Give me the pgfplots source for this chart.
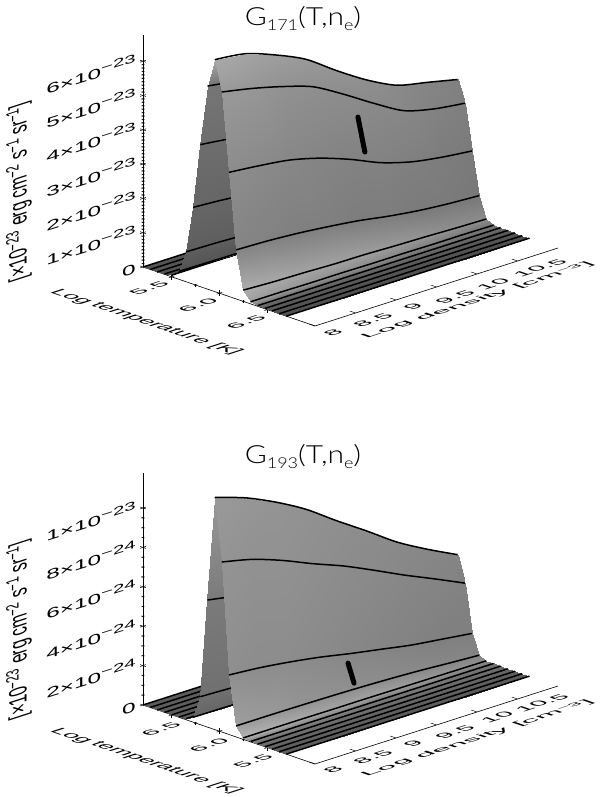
\documentclass[border=0pt]{standalone}
\usepackage{pgfplots}
\pgfplotsset{compat=1.18}
\usepackage{pgfplotstable}
\usepackage{fontspec}
\setmainfont{Liberation Sans}
\newfontfamily\thin{Lato Light}

% G171: T d z(1e-23) shade, one source line per temperature
\pgfplotstableread[row sep=\\]{
T d z s\\
5.2 8 0 0.33\\5.2 8.375 0 0.33\\5.2 8.75 0 0.33\\5.2 9.125 0 0.33\\5.2 9.5 0 0.33\\5.2 9.875 0 0.33\\5.2 10.25 0 0.33\\5.2 10.625 0 0.33\\5.2 11 0 0.33\\
5.275 8 0 0.33\\5.275 8.375 0 0.33\\5.275 8.75 0 0.33\\5.275 9.125 0 0.33\\5.275 9.5 0 0.33\\5.275 9.875 0 0.33\\5.275 10.25 0 0.33\\5.275 10.625 0 0.33\\5.275 11 0 0.33\\
5.35 8 0 0.33\\5.35 8.375 0 0.33\\5.35 8.75 0 0.33\\5.35 9.125 0 0.33\\5.35 9.5 0 0.33\\5.35 9.875 0 0.33\\5.35 10.25 0 0.33\\5.35 10.625 0 0.33\\5.35 11 0 0.33\\
5.425 8 0.01 0.32\\5.425 8.375 0.01 0.32\\5.425 8.75 0.01 0.32\\5.425 9.125 0.01 0.32\\5.425 9.5 0.01 0.32\\5.425 9.875 0.01 0.32\\5.425 10.25 0.01 0.32\\5.425 10.625 0.01 0.32\\5.425 11 0.01 0.32\\
5.5 8 0.05 0.30\\5.5 8.375 0.05 0.30\\5.5 8.75 0.05 0.30\\5.5 9.125 0.05 0.30\\5.5 9.5 0.04 0.30\\5.5 9.875 0.04 0.30\\5.5 10.25 0.03 0.30\\5.5 10.625 0.03 0.30\\5.5 11 0.03 0.30\\
5.575 8 0.23 0.33\\5.575 8.375 0.22 0.33\\5.575 8.75 0.21 0.33\\5.575 9.125 0.20 0.33\\5.575 9.5 0.18 0.33\\5.575 9.875 0.16 0.33\\5.575 10.25 0.15 0.33\\5.575 10.625 0.14 0.33\\5.575 11 0.13 0.33\\
5.65 8 0.87 0.37\\5.65 8.375 0.85 0.37\\5.65 8.75 0.81 0.37\\5.65 9.125 0.76 0.37\\5.65 9.5 0.68 0.37\\5.65 9.875 0.61 0.37\\5.65 10.25 0.55 0.37\\5.65 10.625 0.52 0.37\\5.65 11 0.50 0.37\\
5.725 8 2.24 0.40\\5.725 8.375 2.18 0.40\\5.725 8.75 2.08 0.40\\5.725 9.125 1.94 0.40\\5.725 9.5 1.74 0.40\\5.725 9.875 1.56 0.40\\5.725 10.25 1.42 0.40\\5.725 10.625 1.35 0.40\\5.725 11 1.28 0.40\\
5.8 8 4.14 0.43\\5.8 8.375 4.03 0.43\\5.8 8.75 3.84 0.43\\5.8 9.125 3.59 0.43\\5.8 9.5 3.22 0.43\\5.8 9.875 2.89 0.43\\5.8 10.25 2.62 0.43\\5.8 10.625 2.50 0.43\\5.8 11 2.37 0.43\\
5.875 8 5.92 0.46\\5.875 8.375 5.77 0.46\\5.875 8.75 5.49 0.46\\5.875 9.125 5.14 0.46\\5.875 9.5 4.61 0.46\\5.875 9.875 4.13 0.46\\5.875 10.25 3.74 0.46\\5.875 10.625 3.57 0.46\\5.875 11 3.39 0.46\\
5.95 8 6.76 0.66\\5.95 8.375 6.65 0.64\\5.95 8.75 6.33 0.62\\5.95 9.125 5.92 0.60\\5.95 9.5 5.31 0.58\\5.95 9.875 4.75 0.56\\5.95 10.25 4.31 0.54\\5.95 10.625 4.11 0.52\\5.95 11 3.91 0.50\\
6.025 8 5.89 0.60\\6.025 8.375 5.71 0.59\\6.025 8.75 5.48 0.57\\6.025 9.125 5.19 0.56\\6.025 9.5 4.69 0.55\\6.025 9.875 4.14 0.54\\6.025 10.25 3.64 0.53\\6.025 10.625 3.41 0.51\\6.025 11 3.29 0.50\\
6.1 8 3.62 0.55\\6.1 8.375 3.53 0.54\\6.1 8.75 3.41 0.53\\6.1 9.125 3.18 0.52\\6.1 9.5 2.86 0.51\\6.1 9.875 2.48 0.51\\6.1 10.25 2.22 0.50\\6.1 10.625 2.07 0.49\\6.1 11 1.97 0.48\\
6.175 8 1.43 0.52\\6.175 8.375 1.40 0.51\\6.175 8.75 1.34 0.50\\6.175 9.125 1.25 0.50\\6.175 9.5 1.14 0.49\\6.175 9.875 0.99 0.49\\6.175 10.25 0.87 0.48\\6.175 10.625 0.79 0.48\\6.175 11 0.74 0.47\\
6.25 8 0.33 0.68\\6.25 8.375 0.29 0.66\\6.25 8.75 0.27 0.64\\6.25 9.125 0.24 0.63\\6.25 9.5 0.23 0.62\\6.25 9.875 0.20 0.60\\6.25 10.25 0.18 0.58\\6.25 10.625 0.15 0.56\\6.25 11 0.13 0.55\\
6.325 8 0.06 0.62\\6.325 8.375 0.06 0.60\\6.325 8.75 0.05 0.58\\6.325 9.125 0.05 0.56\\6.325 9.5 0.04 0.54\\6.325 9.875 0.04 0.52\\6.325 10.25 0.03 0.50\\6.325 10.625 0.03 0.47\\6.325 11 0.02 0.45\\
6.4 8 0.02 0.42\\6.4 8.375 0.02 0.42\\6.4 8.75 0.02 0.42\\6.4 9.125 0.02 0.42\\6.4 9.5 0.02 0.42\\6.4 9.875 0.02 0.42\\6.4 10.25 0.02 0.42\\6.4 10.625 0.02 0.42\\6.4 11 0.02 0.42\\
6.475 8 0.01 0.36\\6.475 8.375 0.01 0.36\\6.475 8.75 0.01 0.36\\6.475 9.125 0.01 0.36\\6.475 9.5 0.01 0.36\\6.475 9.875 0.01 0.36\\6.475 10.25 0.01 0.36\\6.475 10.625 0.01 0.36\\6.475 11 0.01 0.36\\
6.55 8 0.01 0.33\\6.55 8.375 0.01 0.33\\6.55 8.75 0.01 0.33\\6.55 9.125 0.01 0.33\\6.55 9.5 0.01 0.33\\6.55 9.875 0.01 0.33\\6.55 10.25 0.01 0.33\\6.55 10.625 0.01 0.33\\6.55 11 0.01 0.33\\
6.625 8 0 0.32\\6.625 8.375 0 0.32\\6.625 8.75 0 0.32\\6.625 9.125 0 0.32\\6.625 9.5 0 0.32\\6.625 9.875 0 0.32\\6.625 10.25 0 0.32\\6.625 10.625 0 0.32\\6.625 11 0 0.32\\
6.7 8 0 0.30\\6.7 8.375 0 0.30\\6.7 8.75 0 0.30\\6.7 9.125 0 0.30\\6.7 9.5 0 0.30\\6.7 9.875 0 0.30\\6.7 10.25 0 0.30\\6.7 10.625 0 0.30\\6.7 11 0 0.30\\
}\tabA

% G193: T d z(1e-24) shade
\pgfplotstableread[row sep=\\]{
T d z s\\
6.8 8 0 0.36\\6.8 8.375 0 0.36\\6.8 8.75 0 0.36\\6.8 9.125 0 0.36\\6.8 9.5 0 0.36\\6.8 9.875 0 0.36\\6.8 10.25 0 0.36\\6.8 10.625 0 0.36\\6.8 11 0 0.36\\
6.725 8 0 0.36\\6.725 8.375 0 0.36\\6.725 8.75 0 0.36\\6.725 9.125 0 0.36\\6.725 9.5 0 0.36\\6.725 9.875 0 0.36\\6.725 10.25 0 0.36\\6.725 10.625 0 0.36\\6.725 11 0 0.36\\
6.65 8 0 0.36\\6.65 8.375 0 0.36\\6.65 8.75 0 0.36\\6.65 9.125 0 0.36\\6.65 9.5 0 0.36\\6.65 9.875 0 0.36\\6.65 10.25 0 0.36\\6.65 10.625 0 0.36\\6.65 11 0 0.36\\
6.575 8 0 0.36\\6.575 8.375 0 0.36\\6.575 8.75 0 0.36\\6.575 9.125 0 0.36\\6.575 9.5 0 0.36\\6.575 9.875 0 0.36\\6.575 10.25 0 0.36\\6.575 10.625 0 0.36\\6.575 11 0 0.36\\
6.5 8 0 0.36\\6.5 8.375 0 0.36\\6.5 8.75 0 0.36\\6.5 9.125 0 0.36\\6.5 9.5 0 0.36\\6.5 9.875 0 0.36\\6.5 10.25 0 0.36\\6.5 10.625 0 0.36\\6.5 11 0 0.36\\
6.425 8 0.01 0.36\\6.425 8.375 0.01 0.36\\6.425 8.75 0.01 0.36\\6.425 9.125 0.01 0.36\\6.425 9.5 0.01 0.36\\6.425 9.875 0.01 0.36\\6.425 10.25 0 0.36\\6.425 10.625 0 0.36\\6.425 11 0 0.36\\
6.35 8 0.05 0.38\\6.35 8.375 0.05 0.38\\6.35 8.75 0.04 0.38\\6.35 9.125 0.04 0.38\\6.35 9.5 0.03 0.38\\6.35 9.875 0.03 0.38\\6.35 10.25 0.03 0.38\\6.35 10.625 0.02 0.38\\6.35 11 0.02 0.38\\
6.275 8 0.25 0.40\\6.275 8.375 0.24 0.40\\6.275 8.75 0.22 0.40\\6.275 9.125 0.20 0.40\\6.275 9.5 0.18 0.40\\6.275 9.875 0.16 0.40\\6.275 10.25 0.14 0.40\\6.275 10.625 0.12 0.40\\6.275 11 0.10 0.40\\
6.2 8 1.42 0.44\\6.2 8.375 1.36 0.44\\6.2 8.75 1.27 0.44\\6.2 9.125 1.17 0.44\\6.2 9.5 1.04 0.44\\6.2 9.875 0.92 0.44\\6.2 10.25 0.79 0.44\\6.2 10.625 0.68 0.44\\6.2 11 0.59 0.44\\
6.125 8 6.45 0.48\\6.125 8.375 6.16 0.48\\6.125 8.75 5.77 0.48\\6.125 9.125 5.30 0.48\\6.125 9.5 4.72 0.48\\6.125 9.875 4.16 0.48\\6.125 10.25 3.58 0.48\\6.125 10.625 3.11 0.48\\6.125 11 2.69 0.48\\
6.05 8 11.78 0.60\\6.05 8.375 11.27 0.59\\6.05 8.75 10.56 0.58\\6.05 9.125 9.70 0.57\\6.05 9.5 8.63 0.56\\6.05 9.875 7.61 0.55\\6.05 10.25 6.55 0.54\\6.05 10.625 5.69 0.53\\6.05 11 4.92 0.52\\
5.975 8 8.63 0.58\\5.975 8.375 8.27 0.57\\5.975 8.75 7.72 0.57\\5.975 9.125 7.06 0.56\\5.975 9.5 6.45 0.55\\5.975 9.875 5.74 0.54\\5.975 10.25 5.00 0.53\\5.975 10.625 4.31 0.52\\5.975 11 3.60 0.51\\
5.9 8 3.02 0.56\\5.9 8.375 2.89 0.55\\5.9 8.75 2.69 0.55\\5.9 9.125 2.44 0.54\\5.9 9.5 2.13 0.53\\5.9 9.875 1.85 0.52\\5.9 10.25 1.57 0.51\\5.9 10.625 1.37 0.50\\5.9 11 1.17 0.50\\
5.825 8 0.56 0.62\\5.825 8.375 0.56 0.60\\5.825 8.75 0.55 0.58\\5.825 9.125 0.53 0.57\\5.825 9.5 0.50 0.56\\5.825 9.875 0.45 0.55\\5.825 10.25 0.38 0.54\\5.825 10.625 0.28 0.53\\5.825 11 0.19 0.52\\
5.75 8 0.08 0.70\\5.75 8.375 0.08 0.68\\5.75 8.75 0.08 0.66\\5.75 9.125 0.07 0.64\\5.75 9.5 0.07 0.64\\5.75 9.875 0.06 0.62\\5.75 10.25 0.05 0.60\\5.75 10.625 0.04 0.58\\5.75 11 0.03 0.55\\
5.675 8 0.02 0.52\\5.675 8.375 0.02 0.50\\5.675 8.75 0.02 0.50\\5.675 9.125 0.02 0.50\\5.675 9.5 0.02 0.48\\5.675 9.875 0.02 0.48\\5.675 10.25 0.02 0.48\\5.675 10.625 0.02 0.46\\5.675 11 0.02 0.45\\
5.6 8 0.01 0.44\\5.6 8.375 0.01 0.44\\5.6 8.75 0.01 0.44\\5.6 9.125 0.01 0.44\\5.6 9.5 0.01 0.44\\5.6 9.875 0.01 0.44\\5.6 10.25 0.01 0.44\\5.6 10.625 0.01 0.44\\5.6 11 0.01 0.44\\
5.525 8 0 0.40\\5.525 8.375 0 0.40\\5.525 8.75 0 0.40\\5.525 9.125 0 0.40\\5.525 9.5 0 0.40\\5.525 9.875 0 0.40\\5.525 10.25 0 0.40\\5.525 10.625 0 0.40\\5.525 11 0 0.40\\
5.45 8 0 0.38\\5.45 8.375 0 0.38\\5.45 8.75 0 0.38\\5.45 9.125 0 0.38\\5.45 9.5 0 0.38\\5.45 9.875 0 0.38\\5.45 10.25 0 0.38\\5.45 10.625 0 0.38\\5.45 11 0 0.38\\
5.375 8 0 0.36\\5.375 8.375 0 0.36\\5.375 8.75 0 0.36\\5.375 9.125 0 0.36\\5.375 9.5 0 0.36\\5.375 9.875 0 0.36\\5.375 10.25 0 0.36\\5.375 10.625 0 0.36\\5.375 11 0 0.36\\
5.3 8 0 0.36\\5.3 8.375 0 0.36\\5.3 8.75 0 0.36\\5.3 9.125 0 0.36\\5.3 9.5 0 0.36\\5.3 9.875 0 0.36\\5.3 10.25 0 0.36\\5.3 10.625 0 0.36\\5.3 11 0 0.36\\
}\tabB

\pgfplotsset{
  idl/.style={
    disabledatascaling, clip=false, anchor=origin,
    ymin=8, ymax=11, zmin=0,
    y={(81pt,26pt)},
    tick style={black,line width=0.5pt},
    tick align=inside,
    major tick length=6pt, minor tick length=3pt,
    xtick={5.5,6,6.5}, ytick=\empty,
    xticklabels={}, zticklabels={},
    minor x tick num=1,
    colormap/blackwhite, point meta min=0, point meta max=1,
    axis x line=bottom, axis y line=none, axis z line=left,
    axis line style={black,line width=0.6pt},
    inner axis line style={-}, outer axis line style={-},
  },
}

% one strip of surface, then the line of constant T at its back edge
\newcommand\drawsurf[1]{%
  \pgfplotsinvokeforeach{0,...,19}{%
    \edef\tmp{\noexpand\addplot3[surf,shader=interp,point meta=explicit,mesh/ordering=y varies,mesh/rows=9,mesh/cols=2,mesh/check=false,
        skip coords between index={0}{\the\numexpr9*##1\relax},
        skip coords between index={\the\numexpr9*##1+18\relax}{189}]
      table[x=T,y=d,z=z,meta=s]{\noexpand#1};
      \noexpand\addplot3[black,line width=1.5pt,smooth,
        skip coords between index={0}{\the\numexpr9*##1\relax},
        skip coords between index={\the\numexpr9*##1+9\relax}{189}]
      table[x=T,y=d,z=z]{\noexpand#1};}\tmp
  }%
  \addplot3[black,line width=1.5pt,skip coords between index={0}{180}] table[x=T,y=d,z=z]{#1};
}
% density axis, at the front end of the temperature axis: #1 its T, #2 T at the tick ends
\newcommand\daxis[2]{%
  \addplot3[black,line width=0.6pt] coordinates {(#1,8,0) (#1,11,0)};
  \pgfplotsinvokeforeach{8,8.5,9,9.5,10,10.5}{\addplot3[black,line width=0.5pt] coordinates {(#1,##1,0) (#2,##1,0)};}%
}

\def\P#1#2{(#1pt,\the\numexpr797-#2\relax pt)}
\def\ee#1{\raisebox{.6ex}{\fontsize{10}{10}\selectfont −#1}}
\def\sm#1{\raisebox{.6ex}{\fontsize{8.5}{8.5}\selectfont −#1}}
\def\sub#1{\raisebox{-.4ex}{\fontsize{15}{15}\selectfont #1}}
\tikzset{
  flat/.style={font=\fontsize{12}{12}\selectfont,inner sep=0pt,cm={2.05,0.66,-1.15,0.39,(0,0)}},
  dens/.style={font=\fontsize{12}{12}\selectfont,inner sep=0pt,cm={2.35,0.76,-1.0,0.34,(0,0)}},
  temp/.style={font=\fontsize{12}{12}\selectfont,inner sep=0pt,cm={1.74,-0.59,1.45,0.47,(0,0)}},
  zl/.style={font=\fontsize{12}{12}\selectfont,inner sep=0pt,anchor=east,cm={2.03,0.64,0,1.15,(0,0)}},
  yl/.style={font=\fontsize{12}{12}\selectfont,inner sep=0pt,cm={0,1.33,-2.1,-0.68,(0,0)}},
  ttl/.style={font=\thin\fontsize{25}{25}\selectfont,inner sep=0pt,xscale=1.2},
}

\begin{document}
\begin{tikzpicture}
\path[use as bounding box] (0pt,0pt) rectangle (600pt,797pt);

\begin{axis}[idl, at={(143pt,530pt)},
  x={(95.56pt,-32.78pt)}, z={(0pt,34.3pt)},
  xmin=5.2, xmax=7, zmax=6.76,
  ztick={0,1,...,6}, minor z tick num=9]
\drawsurf{\tabA}
\daxis{7}{6.94}
\addplot3[black,line width=5pt,line cap=round] coordinates {(6.048,9.653,3.93) (6.089,9.69,2.92)};
\end{axis}

\begin{axis}[idl, at={(315pt,33pt)},
  x={(95.56pt,-32.78pt)}, z={(0pt,19.7pt)}, x dir=reverse,
  xmin=5, xmax=6.8, zmax=11.8,
  ztick={0,2,...,10}, minor z tick num=3]
\drawsurf{\tabB}
\daxis{5}{5.06}
\addplot3[black,line width=5pt,line cap=round] coordinates {(5.88,9.446,1.75) (5.84,9.473,0.76)};
\end{axis}

% texts of the first panel
\node[ttl] at \P{303}{19} {G\sub{171}(T,n\sub{e})};
\node[yl] at \P{19}{192} {[×10\sm{23} erg cm\sm{2} s\sm{1} sr\sm{1}]};
\node[zl] at \P{136}{60} {6×10\ee{23}};
\node[zl] at \P{136}{94} {5×10\ee{23}};
\node[zl] at \P{136}{128} {4×10\ee{23}};
\node[zl] at \P{136}{163} {3×10\ee{23}};
\node[zl] at \P{136}{197} {2×10\ee{23}};
\node[zl] at \P{136}{231} {1×10\ee{23}};
\node[zl] at \P{136}{268} {0};
\node[flat] at \P{149}{288} {5.5};
\node[flat] at \P{198}{305} {6.0};
\node[flat] at \P{246}{322} {6.5};
\node[temp] at \P{146}{322} {Log temperature [K]};
\node[flat] at \P{333}{333} {8};
\node[flat] at \P{373}{320} {8.5};
\node[flat] at \P{413}{307} {9};
\node[flat] at \P{455}{297} {9.5};
\node[flat] at \P{493}{284} {10};
\node[flat] at \P{540}{268} {10.5};
\node[dens] at \P{477}{300} {Log density [cm\sm{3}]};

% texts of the second panel
\node[ttl] at \P{303}{457} {G\sub{193}(T,n\sub{e})};
\node[yl] at \P{19}{630} {[×10\sm{23} erg cm\sm{2} s\sm{1} sr\sm{1}]};
\node[zl] at \P{136}{507} {1×10\ee{23}};
\node[zl] at \P{136}{546} {8×10\ee{24}};
\node[zl] at \P{136}{585} {6×10\ee{24}};
\node[zl] at \P{136}{625} {4×10\ee{24}};
\node[zl] at \P{136}{664} {2×10\ee{24}};
\node[zl] at \P{136}{706} {0};
\node[flat] at \P{161}{729} {6.5};
\node[flat] at \P{209}{745} {6.0};
\node[flat] at \P{253}{761} {5.5};
\node[temp] at \P{146}{761} {Log temperature [K]};
\node[flat] at \P{333}{770} {8};
\node[flat] at \P{373}{757} {8.5};
\node[flat] at \P{413}{744} {9};
\node[flat] at \P{455}{732} {9.5};
\node[flat] at \P{497}{717} {10};
\node[flat] at \P{542}{703} {10.5};
\node[dens] at \P{477}{738} {Log density [cm\sm{3}]};
\end{tikzpicture}
\end{document}
